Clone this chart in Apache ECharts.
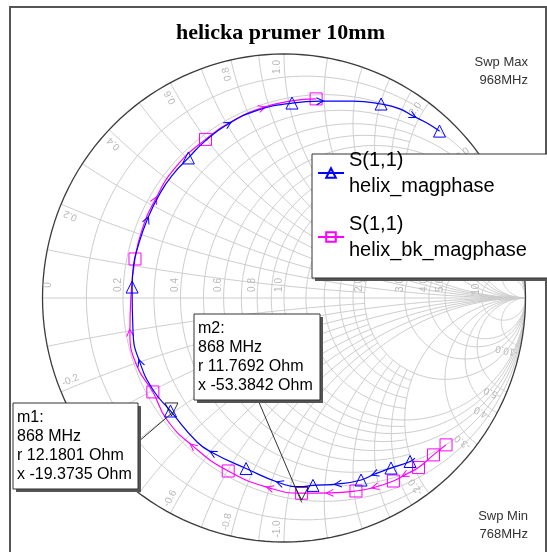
<!DOCTYPE html>
<html><head><meta charset="utf-8">
<script src="https://cdn.jsdelivr.net/npm/echarts@6/dist/echarts.min.js"></script>
<style>html,body{margin:0;padding:0;background:#fff}#c{width:547px;height:552px}</style>
</head><body><div id="c"></div>
<script>
// ---------------- data ----------------
const chartTitle = 'helicka prumer 10mm';
const sweepMax = '968MHz';
const sweepMin = '768MHz';
const traceLabel = 'S(1,1)';
const traceNames = ['helix_magphase', 'helix_bk_magphase'];

// S(1,1) helix_magphase : reflection coefficient, real / imaginary (768 -> 968 MHz)
const helixRe = [0.542,0.522,0.443,0.377,0.319,0.224,0.120,0.066,-0.017,-0.157,-0.294,-0.360,-0.470,-0.542,-0.596,-0.625,-0.629,-0.623,-0.609,-0.567,-0.513,-0.455,-0.396,-0.327,-0.232,-0.120,0.033,0.149,0.286,0.402,0.480,0.534,0.592,0.644];
const helixIm = [-0.656,-0.670,-0.697,-0.721,-0.746,-0.762,-0.768,-0.773,-0.758,-0.699,-0.635,-0.590,-0.463,-0.377,-0.266,-0.143,0.045,0.135,0.197,0.320,0.430,0.512,0.574,0.643,0.713,0.766,0.799,0.807,0.807,0.795,0.775,0.746,0.717,0.684];
const helixSymbolIdx = [1,2,4,6,9,12,16,22,26,29,33];
const helixArrowIdx = [3,5,8,10,14,19,24,27,31];

// S(1,1) helix_bk_magphase
const helixBkRe = [0.671,0.619,0.557,0.501,0.453,0.377,0.298,0.190,0.073,-0.058,-0.231,-0.377,-0.484,-0.543,-0.609,-0.638,-0.634,-0.617,-0.588,-0.534,-0.451,-0.325,-0.203,-0.091,0.025,0.133];
const helixBkIm = [-0.602,-0.643,-0.695,-0.725,-0.750,-0.775,-0.791,-0.799,-0.800,-0.779,-0.709,-0.607,-0.500,-0.385,-0.279,-0.143,0.004,0.160,0.279,0.402,0.533,0.650,0.730,0.779,0.807,0.816];
const helixBkSymbolIdx = [0,1,2,4,6,8,10,13,17,21,25];
const helixBkArrowIdx = [3,5,7,9,11,15,19,23];

// markers (Ohm, Z0 = 50)
const markerNames = ['m1', 'm2'];
const markerFreq = ['868 MHz', '868 MHz'];
const markerR = [12.1801, 11.7692];
const markerX = [-19.3735, -53.3842];
const z0 = 50;

// Smith grid values (normalized r and x), with the extent of the shorter grid lines
const rMajor = [0.2,0.4,0.6,0.8,1.0,2.0,3.0,4.0,5.0,10.0];
const rMinor = [0.1,0.3,0.5,0.7,0.9,1.2,1.4,1.6,1.8];
const xMajor = [0.2,0.4,0.6,0.8,1.0,2.0,3.0,4.0,5.0,10.0];
const xMinor = [0.1,0.3,0.5,0.7,0.9,1.2,1.4,1.6,1.8];
const minorLimit = 2.0;
const rLabels = [0,0.2,0.4,0.6,0.8,1.0,2.0,3.0,4.0,5.0,10.0];
const xLabels = [0.2,0.4,0.6,0.8,1.0,2.0,3.0,4.0,5.0,10.0];

// ---------------- chart ----------------
const GRID = '#cdcdcd', LBL = '#b8b8b8', SANS = '"Liberation Sans", Arial, sans-serif';
const ARROW = 'path://M0,0L10,5L0,10';
const chart = echarts.init(document.getElementById('c'), null, {renderer: 'canvas'});

function traceData(re, im, idx, arrows) {
  return re.map((v, i) => {
    if (idx.indexOf(i) >= 0) return {value: [v, im[i]]};
    if (arrows.indexOf(i) >= 0 && i + 1 < re.length) {
      const ang = Math.atan2(im[i + 1] - im[i - 1], re[i + 1] - re[i - 1]) * 180 / Math.PI;
      return {value: [v, im[i]], symbol: ARROW, symbolSize: [7, 7], symbolRotate: ang};
    }
    return {value: [v, im[i]], symbol: 'none'};
  });
}
function gammaOf(r, x) {
  const den = (r + 1) * (r + 1) + x * x;
  return [(r * r - 1 + x * x) / den, 2 * x / den];
}
const markerGamma = markerR.map((r, i) => gammaOf(r / z0, markerX[i] / z0));

// r circle for |x| <= lim (lim = Infinity : full circle)
function rCirclePts(r, lim) {
  const cx = r / (r + 1), rad = 1 / (r + 1);
  let t0 = 0;
  if (isFinite(lim)) { const g = gammaOf(r, lim); t0 = Math.atan2(g[1], g[0] - cx); }
  const pts = [], n = 160;
  for (let i = 0; i <= n; i++) { const t = t0 + (2 * Math.PI - 2 * t0) * i / n; pts.push([cx + rad * Math.cos(t), rad * Math.sin(t)]); }
  return pts;
}
// x arc for 0 <= r <= lim
function xArcPts(x, lim) {
  const cy = 1 / x, rad = 1 / Math.abs(x);
  const g0 = gammaOf(0, x);
  const g1 = isFinite(lim) ? gammaOf(lim, x) : [1, 0];
  const a0 = Math.atan2(g0[1] - cy, g0[0] - 1);
  const a1 = Math.atan2(g1[1] - cy, g1[0] - 1);
  let d = a1 - a0;
  while (d > Math.PI) d -= 2 * Math.PI;
  while (d < -Math.PI) d += 2 * Math.PI;
  const pts = [], n = 100;
  for (let i = 0; i <= n; i++) { const t = a0 + d * i / n; pts.push([1 + rad * Math.cos(t), cy + rad * Math.sin(t)]); }
  return pts;
}
const gridLines = [];
rMajor.forEach(r => gridLines.push(rCirclePts(r, Infinity)));
rMinor.forEach(r => gridLines.push(rCirclePts(r, minorLimit)));
xMajor.forEach(x => { gridLines.push(xArcPts(x, Infinity)); gridLines.push(xArcPts(-x, Infinity)); });
xMinor.forEach(x => { gridLines.push(xArcPts(x, minorLimit)); gridLines.push(xArcPts(-x, minorLimit)); });
gridLines.push([[-1, 0], [1, 0]]);

function gridLine(params, api) {
  const pts = gridLines[params.dataIndex].map(p => api.coord(p));
  return {type: 'polyline', shape: {points: pts}, style: {fill: 'none', stroke: GRID, lineWidth: 1}};
}
function outerCircle(params, api) {
  const pts = rCirclePts(0, Infinity).map(p => api.coord(p));
  return {type: 'polyline', shape: {points: pts}, style: {fill: 'none', stroke: '#3c3c3c', lineWidth: 1.3}};
}
function rLabel(params, api) {
  const r = api.value(0);
  const p = api.coord([(r - 1) / (r + 1), 0]);
  const dx = r === 0 ? 6 : -5;
  return {type: 'text', x: p[0] + dx, y: p[1] - 13, rotation: Math.PI / 2,
          style: {text: r === 0 ? '0' : r.toFixed(1), fill: LBL, font: '10px ' + SANS, align: 'center', verticalAlign: 'middle'}};
}
function xLabel(params, api) {
  const x = api.value(0);
  const g = gammaOf(0, x);
  const p = api.coord(g);
  const o = api.coord([0, 0]);
  let ix = o[0] - p[0], iy = o[1] - p[1];
  const il = Math.hypot(ix, iy); ix /= il; iy /= il;
  const phi = Math.atan2(g[1], g[0]);
  let tx, ty;
  if (g[1] > 0) { tx = -Math.sin(phi); ty = Math.cos(phi); } else { tx = Math.sin(phi); ty = -Math.cos(phi); }
  const vx = g[0] - 1, vy = g[1] - 1 / x;
  let ang = Math.atan2(vx, -vy);
  ang = ((ang % Math.PI) + Math.PI) % Math.PI;
  return {type: 'text', x: p[0] + ix * 13 + tx * 7, y: p[1] + iy * 13 - ty * 7, rotation: ang,
          style: {text: x.toFixed(1), fill: LBL, font: '10px ' + SANS, align: 'center', verticalAlign: 'middle'}};
}

const option = {
  animation: false,
  backgroundColor: '#fff',
  title: {text: chartTitle, left: 171, top: 17,
          textStyle: {fontFamily: '"Liberation Serif", "Times New Roman", serif', fontWeight: 'bold', fontSize: 22, color: '#000'}},
  grid: {left: 42.5, top: 54, width: 483, height: 488},
  xAxis: {type: 'value', min: -1, max: 1, show: false},
  yAxis: {type: 'value', min: -1, max: 1, show: false},
  legend: {
    data: traceNames, orient: 'vertical', left: 317, top: 134, padding: 0,
    itemWidth: 26, itemHeight: 12, itemGap: -14,
    formatter: n => traceLabel + '\n' + n,
    textStyle: {fontFamily: SANS, fontSize: 20, color: '#000', lineHeight: 26, padding: [26, 0, 0, 0]},
    z: 6
  },
  series: [
    {type: 'custom', coordinateSystem: 'cartesian2d', silent: true, z: 1, data: gridLines.map(() => [0, 0]), renderItem: gridLine},
    {type: 'custom', coordinateSystem: 'cartesian2d', silent: true, z: 1, data: [[0, 0]], renderItem: outerCircle},
    {type: 'custom', coordinateSystem: 'cartesian2d', silent: true, z: 1, data: rLabels.map(v => [v, 0]), renderItem: rLabel},
    {type: 'custom', coordinateSystem: 'cartesian2d', silent: true, z: 1, data: xLabels.concat(xLabels.map(v => -v)).map(v => [v, 0]), renderItem: xLabel},
    {name: traceNames[0], type: 'line', smooth: 0.5, showSymbol: true, symbol: 'triangle', symbolSize: 12,
     itemStyle: {color: 'rgba(0,0,0,0)', borderColor: '#0000ff', borderWidth: 1},
     lineStyle: {color: '#0000ff', width: 1.2}, z: 3,
     data: traceData(helixRe, helixIm, helixSymbolIdx, helixArrowIdx)},
    {name: traceNames[1], type: 'line', smooth: 0.5, showSymbol: true, symbol: 'rect', symbolSize: 12,
     itemStyle: {color: 'rgba(0,0,0,0)', borderColor: '#ff00ff', borderWidth: 1},
     lineStyle: {color: '#ff00ff', width: 1.2}, z: 2,
     data: traceData(helixBkRe, helixBkIm, helixBkSymbolIdx, helixBkArrowIdx)},
    {name: 'markers', type: 'scatter', symbol: 'triangle', symbolRotate: 180, symbolSize: 13, z: 4,
     itemStyle: {color: 'rgba(0,0,0,0)', borderColor: '#000', borderWidth: 1},
     data: markerGamma}
  ]
};
chart.setOption(option);

// annotations (legend box, marker boxes, sweep text, frame)
const mp = markerGamma.map(g => chart.convertToPixel({gridIndex: 0}, g));
function box(x, y, w, h, lines, z) {
  const els = [
    {type: 'rect', shape: {x: x + 3, y: y + 3, width: w, height: h}, style: {fill: '#555'}, z: z},
    {type: 'rect', shape: {x: x, y: y, width: w, height: h}, style: {fill: '#fff', stroke: '#333', lineWidth: 1}, z: z}
  ];
  lines.forEach((t, i) => els.push({type: 'text', x: x + 4, y: y + 15 + i * 18.7,
    style: {text: t, fill: '#000', font: '16px ' + SANS, textAlign: 'left', textVerticalAlign: 'middle'}, z: z + 1}));
  return els;
}
const mLines = markerNames.map((n, i) => [n + ':', markerFreq[i], 'r ' + markerR[i].toFixed(4) + ' Ohm', 'x ' + markerX[i].toFixed(4) + ' Ohm']);
const gfx = [
  {type: 'rect', shape: {x: 10, y: 7, width: 536, height: 560}, style: {fill: 'none', stroke: '#555', lineWidth: 2}, z: 0},
  {type: 'rect', shape: {x: 315, y: 157, width: 260, height: 124}, style: {fill: '#555'}, z: 4},
  {type: 'rect', shape: {x: 312, y: 154, width: 260, height: 124}, style: {fill: '#fff', stroke: '#333', lineWidth: 1}, z: 5},
  {type: 'text', x: 528, y: 62, style: {text: 'Swp Max', fill: '#333', font: '13px ' + SANS, textAlign: 'right', textVerticalAlign: 'middle'}, z: 5},
  {type: 'text', x: 528, y: 80, style: {text: sweepMax, fill: '#333', font: '13px ' + SANS, textAlign: 'right', textVerticalAlign: 'middle'}, z: 5},
  {type: 'text', x: 528, y: 516, style: {text: 'Swp Min', fill: '#333', font: '13px ' + SANS, textAlign: 'right', textVerticalAlign: 'middle'}, z: 5},
  {type: 'text', x: 528, y: 534, style: {text: sweepMin, fill: '#333', font: '13px ' + SANS, textAlign: 'right', textVerticalAlign: 'middle'}, z: 5},
  {type: 'line', shape: {x1: 138, y1: 442, x2: mp[0][0], y2: mp[0][1] + 4}, style: {stroke: '#333', lineWidth: 1}, z: 7},
  {type: 'line', shape: {x1: 258, y1: 400, x2: mp[1][0], y2: mp[1][1] + 9}, style: {stroke: '#333', lineWidth: 1}, z: 7}
].concat(box(13, 403, 125, 86, mLines[0], 8), box(194, 314, 126, 86, mLines[1], 8));
chart.setOption({graphic: {elements: gfx}});
</script></body></html>
